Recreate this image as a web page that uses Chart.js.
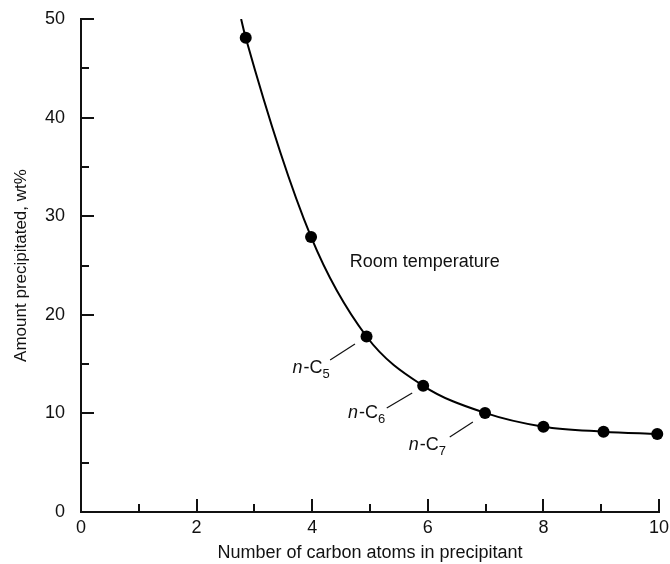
<!DOCTYPE html>
<html>
<head>
<meta charset="utf-8">
<script src="https://cdn.jsdelivr.net/npm/chart.js@4/dist/chart.umd.min.js"></script>
<style>
  html, body { margin: 0; padding: 0; background: #fff; }
  #wrap { width: 670px; height: 564px; }
</style>
</head>
<body>
<div id="wrap"><canvas id="precip-chart"></canvas></div>
<script>
// measured points (carbon number vs. wt% precipitated)
const carbonNumbers = [2.85, 3.98, 4.94, 5.92, 6.99, 8.0, 9.04, 9.97];
const amounts = [48.1, 27.9, 17.8, 12.8, 10.05, 8.65, 8.15, 7.9];

// drawn fit curve (runs up to the top of the frame)
const curveX = [2.77, 2.85, 3.98, 4.94, 5.92, 6.99, 8.0, 9.04, 9.97];
const curveY = [50, 48.1, 27.9, 17.8, 12.8, 10.05, 8.65, 8.15, 7.9];

const xTickLabels = ['0', '', '2', '', '4', '', '6', '', '8', '', '10'];
const yTickLabels = ['0', '', '10', '', '20', '', '30', '', '40', '', '50'];

const FONT = '"Liberation Sans", Arial, Helvetica, sans-serif';

// n-alkane labels with leader lines, in data units
const labelNames = ['5', '6', '7'];
const labelPos = [[3.66, 14.13], [4.62, 9.53], [5.67, 6.29]];
const leaderLines = [
    [[4.31, 15.42], [4.74, 17.04]],
    [[5.29, 10.55], [5.73, 12.07]],
    [[6.38, 7.61], [6.78, 9.13]]
];
const noteText = 'Room temperature';
const notePos = [4.65, 24.85];

const toXY = (xs, ys) => xs.map((x, i) => ({x: x, y: ys[i]}));

const annotations = {
    id: 'annotations',
    afterDraw(chart) {
        const {ctx, scales: {x, y}} = chart;
        ctx.save();

        // inward tick marks
        ctx.strokeStyle = '#111';
        ctx.lineWidth = 2;
        x.ticks.forEach(t => {
            const px = Math.round(x.getPixelForValue(t.value));
            const len = t.value % 2 === 0 ? 13 : 8;
            ctx.beginPath();
            ctx.moveTo(px, y.bottom);
            ctx.lineTo(px, y.bottom - len);
            ctx.stroke();
        });
        y.ticks.forEach(t => {
            const py = Math.round(y.getPixelForValue(t.value));
            const len = t.value % 10 === 0 ? 13 : 8;
            ctx.beginPath();
            ctx.moveTo(x.left, py);
            ctx.lineTo(x.left + len, py);
            ctx.stroke();
        });

        // leader lines
        ctx.lineWidth = 1.2;
        leaderLines.forEach(l => {
            ctx.beginPath();
            ctx.moveTo(x.getPixelForValue(l[0][0]), y.getPixelForValue(l[0][1]));
            ctx.lineTo(x.getPixelForValue(l[1][0]), y.getPixelForValue(l[1][1]));
            ctx.stroke();
        });

        ctx.fillStyle = '#111';
        ctx.textBaseline = 'alphabetic';
        ctx.textAlign = 'left';

        ctx.font = '18px ' + FONT;
        ctx.fillText(noteText, x.getPixelForValue(notePos[0]), y.getPixelForValue(notePos[1]));

        labelNames.forEach((n, i) => {
            let px = x.getPixelForValue(labelPos[i][0]);
            const py = y.getPixelForValue(labelPos[i][1]);
            ctx.font = 'italic 18px ' + FONT;
            ctx.fillText('n', px, py);
            px += ctx.measureText('n').width + 1;
            ctx.font = '18px ' + FONT;
            ctx.fillText('-C', px, py);
            px += ctx.measureText('-C').width;
            ctx.font = '13px ' + FONT;
            ctx.fillText(n, px, py + 5);
        });

        ctx.restore();
    }
};

new Chart(document.getElementById('precip-chart'), {
    type: 'line',
    data: {
        datasets: [{
            label: 'Room temperature',
            data: toXY(carbonNumbers, amounts),
            showLine: false,
            pointRadius: 6,
            pointBackgroundColor: '#000',
            pointBorderWidth: 0,
            clip: false,
            order: 0
        }, {
            label: 'fit',
            data: toXY(curveX, curveY),
            borderColor: '#000',
            borderWidth: 2,
            pointRadius: 0,
            fill: false,
            cubicInterpolationMode: 'monotone',
            order: 1
        }]
    },
    options: {
        responsive: true,
        maintainAspectRatio: false,
        animation: false,
        devicePixelRatio: 1,
        layout: {
            padding: {left: 0, right: 11, top: 19, bottom: 0}
        },
        plugins: {
            legend: {display: false},
            tooltip: {enabled: false}
        },
        scales: {
            x: {
                type: 'linear',
                min: 0,
                max: 10,
                grid: {display: false},
                border: {display: true, color: '#111', width: 2},
                ticks: {
                    stepSize: 1,
                    autoSkip: false,
                    maxRotation: 0,
                    padding: -3,
                    color: '#111',
                    font: {family: FONT, size: 18},
                    callback: (v, i) => xTickLabels[i]
                },
                title: {
                    display: true,
                    text: 'Number of carbon atoms in precipitant',
                    color: '#111',
                    font: {family: FONT, size: 18},
                    padding: {top: 0, bottom: 0}
                },
                afterFit: s => { s.height = 52; }
            },
            y: {
                type: 'linear',
                min: 0,
                max: 50,
                grid: {display: false},
                border: {display: true, color: '#111', width: 2},
                ticks: {
                    stepSize: 5,
                    autoSkip: false,
                    padding: 8,
                    color: '#111',
                    font: {family: FONT, size: 18},
                    callback: (v, i) => yTickLabels[i]
                },
                title: {
                    display: true,
                    text: 'Amount precipitated, wt%',
                    color: '#111',
                    font: {family: FONT, size: 17},
                    padding: {top: 11, bottom: 0}
                },
                afterFit: s => { s.width = 81; }
            }
        }
    },
    plugins: [annotations]
});
</script>
</body>
</html>
